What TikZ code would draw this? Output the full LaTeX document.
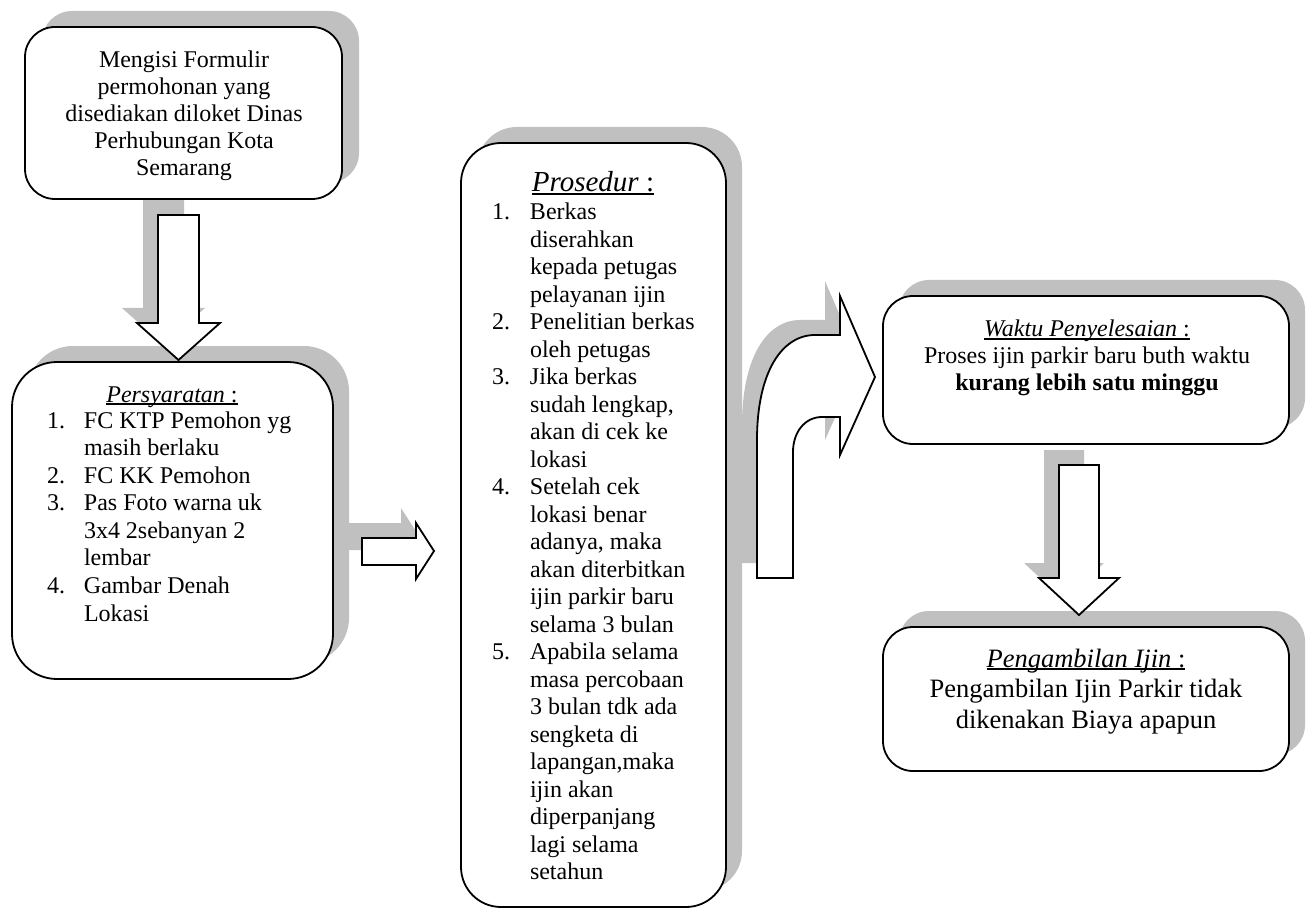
\documentclass[tikz,border=0pt]{standalone}
\usepackage{fontspec}
\setmainfont{Liberation Serif}
\definecolor{shade}{HTML}{C0C0C0}
\newlength\ulw
\newcommand\myul[1]{\settowidth\ulw{#1}\rlap{\rule[-2.6pt]{\ulw}{1.3pt}}#1}
\newcommand\cl[1]{\hbox to 0pt{\hss #1\hss}}
\newcommand\li[3]{\hbox{\hbox to #1{#2\hfil}#3}}
\begin{document}
\begin{tikzpicture}[x=1pt,y=-1pt,
  shadowbox/.style={fill=shade, draw=none, inner sep=0pt, outer sep=0pt, anchor=north west},
  box/.style={draw=black, line width=1.8pt, fill=white, inner sep=0pt, outer sep=0pt, anchor=north west},
  blockarrow/.style={draw=black, line width=1.8pt, fill=white, line join=miter},
  arrowshadow/.style={fill=shade, draw=none, shift={(-15,-15)}},
  txt/.style={inner sep=0pt, outer sep=0pt, font=\fontsize{24}{27.6}\selectfont}]
\useasboundingbox (0,0) rectangle (1312,909);

% ---------- shadows ----------
\node[shadowbox, rounded corners=30pt, minimum width=317pt, minimum height=172pt] (s1) at (42,11) {};
\node[shadowbox, rounded corners=45pt, minimum width=321pt, minimum height=317pt] (s2) at (28,346) {};
\node[shadowbox, rounded corners=40pt, minimum width=265pt, minimum height=764pt] (s3) at (477,127) {};
\node[shadowbox, rounded corners=30pt, minimum width=406pt, minimum height=148pt] (s4) at (899,280) {};
\node[shadowbox, rounded corners=30pt, minimum width=406pt, minimum height=144pt] (s5) at (899,611) {};

\fill[arrowshadow] (158,215) -- (199,215) -- (199,323) -- (220,323) -- (178.5,360) -- (137,323) -- (158,323) -- cycle;
\fill[arrowshadow] (362,538) -- (416,538) -- (416,523) -- (434,551) -- (416,579) -- (416,565) -- (362,565) -- cycle;
\fill[arrowshadow] (757,578) -- (757,440) .. controls (757,372) and (782,335) .. (815,335) -- (840,335) -- (840,296) -- (875,377) -- (840,455) -- (840,417) -- (822,417) .. controls (805,417) and (793,432) .. (793,452) -- (793,578) -- cycle;
\fill[arrowshadow] (1059,465) -- (1099,465) -- (1099,578) -- (1119,578) -- (1079,615) -- (1039,578) -- (1059,578) -- cycle;

% ---------- boxes ----------
\node[box, rounded corners=30pt, minimum width=317pt, minimum height=172pt] (b1) at (25,27) {};
\node[box, rounded corners=45pt, minimum width=321pt, minimum height=317pt] (b2) at (12,362) {};
\node[box, rounded corners=40pt, minimum width=265pt, minimum height=764pt] (b3) at (461,143) {};
\node[box, rounded corners=30pt, minimum width=406pt, minimum height=148pt] (b4) at (883,296) {};
\node[box, rounded corners=30pt, minimum width=406pt, minimum height=144pt] (b5) at (883,627) {};

% ---------- block arrows ----------
\draw[blockarrow] (158,215) -- (199,215) -- (199,323) -- (220,323) -- (178.5,360) -- (137,323) -- (158,323) -- cycle;
\draw[blockarrow] (362,538) -- (416,538) -- (416,523) -- (434,551) -- (416,579) -- (416,565) -- (362,565) -- cycle;
\draw[blockarrow] (757,578) -- (757,440) .. controls (757,372) and (782,335) .. (815,335) -- (840,335) -- (840,296) -- (875,377) -- (840,455) -- (840,417) -- (822,417) .. controls (805,417) and (793,432) .. (793,452) -- (793,578) -- cycle;
\draw[blockarrow] (1059,465) -- (1099,465) -- (1099,578) -- (1119,578) -- (1079,615) -- (1039,578) -- (1059,578) -- cycle;

% ---------- texts ----------
\node[txt, anchor=base] (t1) at (184,68) {\vtop{\baselineskip=27pt
  \cl{Mengisi Formulir}\cl{permohonan yang}\cl{disediakan diloket Dinas}\cl{Perhubungan Kota}\cl{Semarang}}};

\node[txt, anchor=base] (t2a) at (172,402) {\myul{\textit{Persyaratan} :}};
\node[txt, anchor=base west] (t2b) at (47,428) {\vtop{\baselineskip=27.6pt
  \li{37pt}{1.}{FC KTP Pemohon yg}
  \li{37pt}{}{masih berlaku}
  \li{37pt}{2.}{FC KK Pemohon}
  \li{37pt}{3.}{Pas Foto warna uk}
  \li{37pt}{}{3x4 2sebanyan 2}
  \li{37pt}{}{lembar}
  \li{37pt}{4.}{Gambar Denah}
  \li{37pt}{}{Lokasi}}};

\node[txt, anchor=base, font=\fontsize{29}{33}\selectfont] (t3a) at (593,192) {\myul{\textit{Prosedur} :}};
\node[txt, anchor=base west] (t3b) at (492,220) {\vtop{\baselineskip=27.5pt
  \li{38pt}{1.}{Berkas}
  \li{38pt}{}{diserahkan}
  \li{38pt}{}{kepada petugas}
  \li{38pt}{}{pelayanan ijin}
  \li{38pt}{2.}{Penelitian berkas}
  \li{38pt}{}{oleh petugas}
  \li{38pt}{3.}{Jika berkas}
  \li{38pt}{}{sudah lengkap,}
  \li{38pt}{}{akan di cek ke}
  \li{38pt}{}{lokasi}
  \li{38pt}{4.}{Setelah cek}
  \li{38pt}{}{lokasi benar}
  \li{38pt}{}{adanya, maka}
  \li{38pt}{}{akan diterbitkan}
  \li{38pt}{}{ijin parkir baru}
  \li{38pt}{}{selama 3 bulan}
  \li{38pt}{5.}{Apabila selama}
  \li{38pt}{}{masa percobaan}
  \li{38pt}{}{3 bulan tdk ada}
  \li{38pt}{}{sengketa di}
  \li{38pt}{}{lapangan,maka}
  \li{38pt}{}{ijin akan}
  \li{38pt}{}{diperpanjang}
  \li{38pt}{}{lagi selama}
  \li{38pt}{}{setahun}}};

\node[txt, anchor=base] (t4) at (1087,337) {\vtop{\baselineskip=27pt
  \cl{\myul{\textit{Waktu Penyelesaian} :}}
  \cl{Proses ijin parkir baru buth waktu}
  \cl{\textbf{kurang lebih satu minggu}}}};

\node[txt, anchor=base, font=\fontsize{26.5}{30.5}\selectfont] (t5) at (1086,667) {\vtop{\baselineskip=30.5pt
  \cl{\myul{\textit{Pengambilan Ijin} :}}
  \cl{Pengambilan Ijin Parkir tidak}
  \cl{dikenakan Biaya apapun}}};
\end{tikzpicture}
\end{document}
